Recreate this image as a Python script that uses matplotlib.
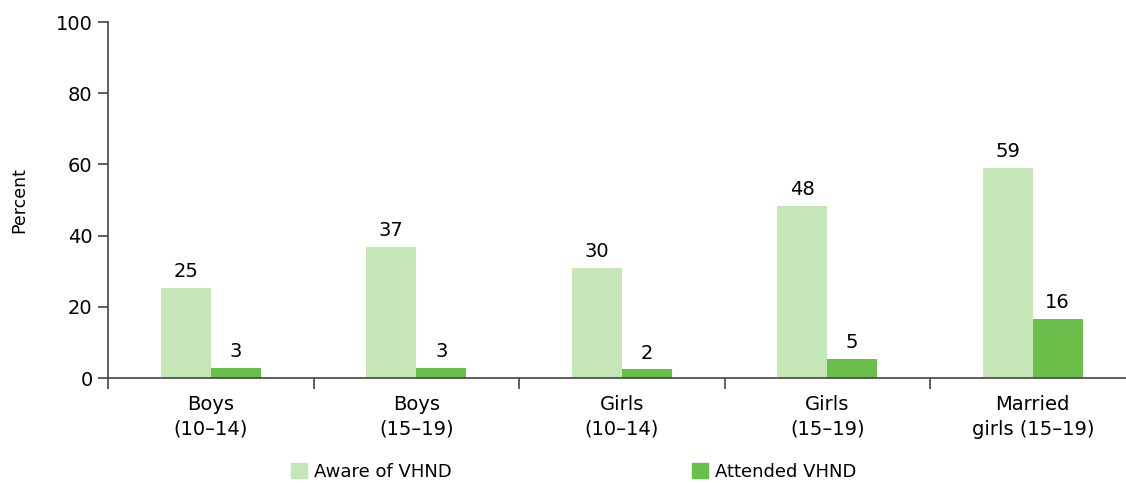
import numpy as np
import matplotlib.pyplot as plt
from matplotlib.patches import Patch

# dane
kategorie = ['Boys\n(10–14)', 'Boys\n(15–19)', 'Girls\n(10–14)', 'Girls\n(15–19)', 'Married\ngirls (15–19)']
aware = [25.4, 36.7, 31.0, 48.4, 58.9]
attended = [2.8, 2.8, 2.4, 5.3, 16.5]
aware_lbl = ['25', '37', '30', '48', '59']
attended_lbl = ['3', '3', '2', '5', '16']

jasny = '#c5e6b7'
ciemny = '#6abf4b'
szary = '#444444'

plt.rcParams['font.family'] = ['DejaVu Sans']

fig = plt.figure(figsize=(11.26, 4.83), dpi=100)
ax = fig.add_axes([108 / 1126, 105 / 483, 1 - 108 / 1126, 356 / 483])

x = np.arange(len(kategorie))
w = 0.243
b1 = ax.bar(x - w / 2, aware, w, color=jasny)
b2 = ax.bar(x + w / 2, attended, w, color=ciemny)

for rect, t in zip(b1, aware_lbl):
    ax.annotate(t, (rect.get_x() + rect.get_width() / 2, rect.get_height()),
                xytext=(0, 5), textcoords='offset points', ha='center', va='bottom', fontsize=14)
for rect, t in zip(b2, attended_lbl):
    ax.annotate(t, (rect.get_x() + rect.get_width() / 2, rect.get_height()),
                xytext=(0, 5), textcoords='offset points', ha='center', va='bottom', fontsize=14)

ax.set_xlim(-0.5, (1126 - 108) / 205.5 - 0.5)
ax.set_ylim(0, 100)
ax.set_yticks(range(0, 101, 20))
ax.tick_params(axis='y', labelsize=14, length=7, color=szary, width=1.2, pad=4)

ax.set_xticks(x)
ax.set_xticklabels(kategorie, fontsize=14, linespacing=1.4)
ax.set_xticks(np.arange(-0.5, len(kategorie) - 0.5, 1), minor=True)
ax.tick_params(axis='x', which='major', length=0, pad=12)
ax.tick_params(axis='x', which='minor', length=8, color=szary, width=1.2)

for s in ['top', 'right']:
    ax.spines[s].set_visible(False)
for s in ['left', 'bottom']:
    ax.spines[s].set_color(szary)
    ax.spines[s].set_linewidth(1.2)

ax.set_ylabel('Percent', fontsize=12.5)
ax.yaxis.set_label_coords(-0.078, 0.5)

uchwyty = [Patch(color=jasny, label='Aware of VHND'), Patch(color=ciemny, label='Attended VHND')]
fig.legend(handles=uchwyty, loc='center', bbox_to_anchor=(0.5095, 11 / 483), ncol=2,
           frameon=False, fontsize=13, columnspacing=13.3, handlelength=0.9, handleheight=0.9,
           handletextpad=0.4)

fig.savefig('out.png', dpi=100)
